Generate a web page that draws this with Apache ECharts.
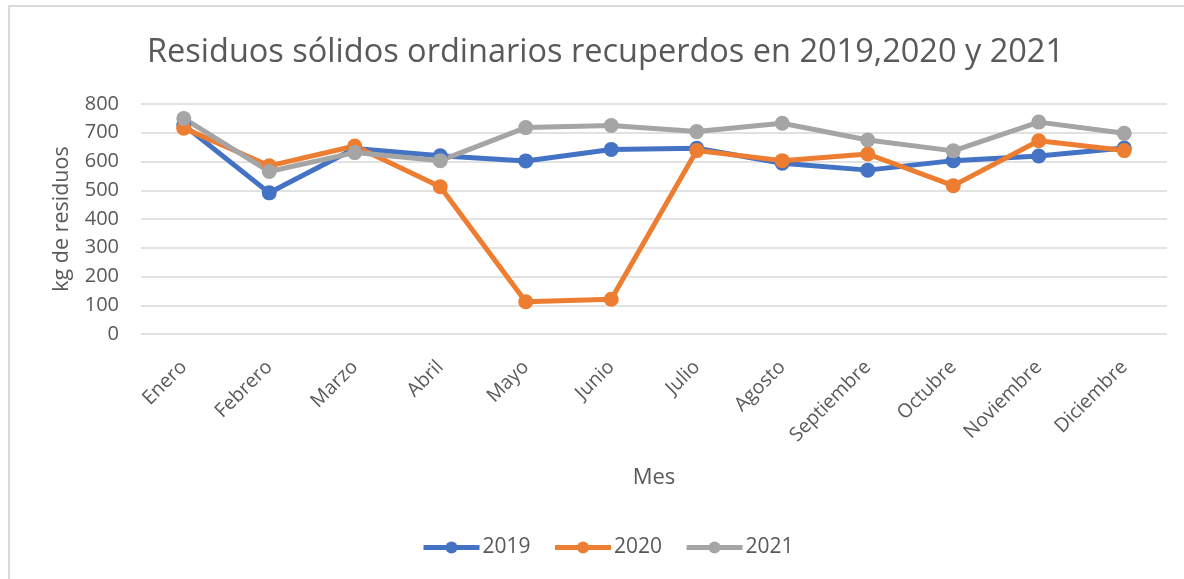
<!DOCTYPE html>
<html>
<head>
<meta charset="utf-8">
<script src="https://cdn.jsdelivr.net/npm/echarts@6/dist/echarts.min.js"></script>
<style>
  html, body { margin: 0; padding: 0; background: #fff; }
  #frame { position: absolute; left: 8px; top: 5px; width: 1300px; height: 700px;
           border-top: 2px solid #d9d9d9; border-left: 2px solid #d9d9d9; }
  #chart { position: absolute; left: 0; top: 0; width: 1184px; height: 579px; }
</style>
</head>
<body>
<div id="frame"></div>
<div id="chart"></div>
<script>
// datos
const meses = ["Enero", "Febrero", "Marzo", "Abril", "Mayo", "Junio", "Julio",
  "Agosto", "Septiembre", "Octubre", "Noviembre", "Diciembre"];
const datos2019 = [727, 491, 645, 620, 602, 642, 646, 594, 570, 603, 619, 647];
const datos2020 = [716, 585, 654, 512, 112, 121, 638, 603, 626, 516, 672, 638];
const datos2021 = [750, 565, 631, 603, 718, 725, 704, 733, 675, 637, 737, 698];

const gris = "#595959";
const fuente = "Open Sans";

const myChart = echarts.init(document.getElementById("chart"));

const serie = (name, data, color) => ({
  name: name,
  type: "line",
  data: data,
  symbol: "circle",
  symbolSize: 15,
  lineStyle: { color: color, width: 5 },
  itemStyle: { color: color },
  emphasis: { disabled: true },
});

const options = {
  animation: false,
  textStyle: { fontFamily: fuente },
  title: {
    text: "Residuos sólidos ordinarios recuperdos en 2019,2020 y 2021",
    left: 142,
    top: 31,
    textStyle: { color: gris, fontSize: 32.5, fontWeight: "normal", fontFamily: fuente },
  },
  // posición del área de trazado
  grid: { left: 141, right: 17, top: 104, bottom: 245, containLabel: false },
  legend: {
    bottom: 16,
    left: 416,
    itemWidth: 56,
    itemHeight: 15,
    itemGap: 22,
    lineStyle: { width: 5 },
    textStyle: { color: gris, fontSize: 21, fontFamily: fuente, padding: [0, 0, 0, -2] },
    data: ["2019", "2020", "2021"],
  },
  xAxis: {
    type: "category",
    data: meses,
    name: "Mes",
    nameLocation: "middle",
    nameGap: 133,
    nameTextStyle: { color: gris, fontSize: 22 },
    axisLine: { show: false },
    axisTick: { show: false },
    axisLabel: { color: gris, fontSize: 19.5, rotate: 45, margin: 30 },
  },
  yAxis: {
    type: "value",
    min: 0,
    max: 800,
    interval: 100,
    name: "kg de residuos",
    nameLocation: "middle",
    nameGap: 68,
    nameTextStyle: { color: gris, fontSize: 21.5 },
    axisLabel: { color: gris, fontSize: 20, margin: 22 },
    splitLine: { lineStyle: { color: "#d9d9d9", width: 1.5 } },
  },
  series: [
    serie("2019", datos2019, "#4472C4"),
    serie("2020", datos2020, "#ED7D31"),
    serie("2021", datos2021, "#A5A5A5"),
  ],
};

myChart.setOption(options);
</script>
</body>
</html>
